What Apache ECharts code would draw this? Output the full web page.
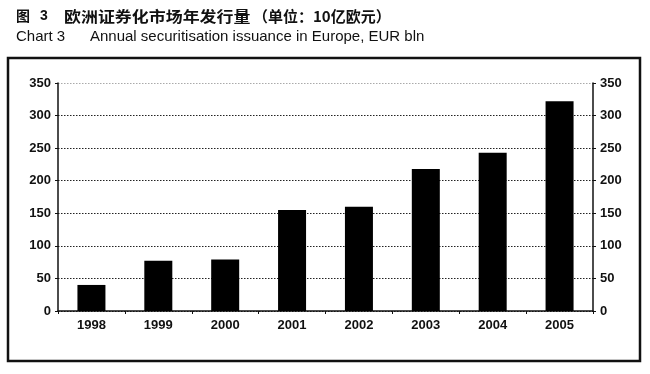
<!DOCTYPE html>
<html>
<head>
<meta charset="utf-8">
<script src="https://cdn.jsdelivr.net/npm/echarts@6/dist/echarts.min.js"></script>
<style>html,body{margin:0;padding:0;background:#fff}#c{width:650px;height:374px}</style>
</head>
<body>
<div id="c"></div>
<script>
var titleCnFig = '图';
var titleCnNum = '3';
var titleCnMain = '欧洲证券化市场年发行量';
var titleCnUnit = '（单位：10亿欧元）';
var titleEnA = 'Chart 3';
var titleEnB = 'Annual securitisation issuance in Europe, EUR bln';
var years = ['1998', '1999', '2000', '2001', '2002', '2003', '2004', '2005'];
var issuance = [40, 77, 79, 155, 160, 218, 243, 322];
var yTicks = [0, 50, 100, 150, 200, 250, 300, 350];

var chart = echarts.init(document.getElementById('c'));
var font = '"Liberation Sans", Arial, sans-serif';
var cjk = '"Noto Sans CJK SC", sans-serif';
var yAxisBase = {
  type: 'value',
  min: yTicks[0],
  max: yTicks[yTicks.length - 1],
  interval: yTicks[1] - yTicks[0],
  axisLine: {show: true, lineStyle: {color: '#111', width: 1.5}},
  axisTick: {show: true, length: 3, lineStyle: {color: '#111'}},
  axisLabel: {color: '#111', fontSize: 13, fontFamily: font, fontWeight: 'bold', margin: 7}
};
function txt(x, y, s, size, weight, fam, extra) {
  return Object.assign({type: 'text', x: x, y: y, style: {text: s, fill: '#111', font: weight + ' ' + size + 'px ' + fam, textVerticalAlign: 'middle'}}, extra || {});
}
chart.setOption({
  animation: false,
  backgroundColor: '#fff',
  graphic: [
    {type: 'rect', shape: {x: 8, y: 58, width: 632, height: 303}, style: {fill: 'none', stroke: '#111', lineWidth: 2.5}, z: -1},
    txt(16, 16, titleCnFig, 14, 'bold', cjk),
    txt(40, 16, titleCnNum, 14, 'bold', font),
    {type: 'text', x: 64, y: 16, style: {text: titleCnMain, fill: '#111', font: 'bold 15px ' + cjk, textVerticalAlign: 'middle'}, scaleX: 1.13},
    txt(253, 16, titleCnUnit, 15, 'bold', cjk),
    txt(16, 37, titleEnA, 15, 'normal', font),
    txt(90, 37, titleEnB, 15, 'normal', font)
  ],
  grid: {left: 58, right: 57, top: 83, bottom: 63},
  xAxis: {
    type: 'category',
    data: years,
    axisLine: {lineStyle: {color: '#111', width: 1.5}},
    axisTick: {show: true, length: 3, alignWithLabel: false, lineStyle: {color: '#111'}},
    axisLabel: {color: '#111', fontSize: 13, fontFamily: font, fontWeight: 'bold', margin: 8}
  },
  yAxis: [
    Object.assign({}, yAxisBase, {
      position: 'left',
      splitLine: {show: true, lineStyle: {type: [1.5, 1.5], width: 1.2, color: ['#222', '#222', '#222', '#222', '#222', '#222', '#222', '#aaa']}}
    }),
    Object.assign({}, yAxisBase, {position: 'right', splitLine: {show: false}})
  ],
  series: [{
    type: 'bar',
    data: issuance,
    barWidth: 28,
    itemStyle: {color: '#000'}
  }]
});
</script>
</body>
</html>
